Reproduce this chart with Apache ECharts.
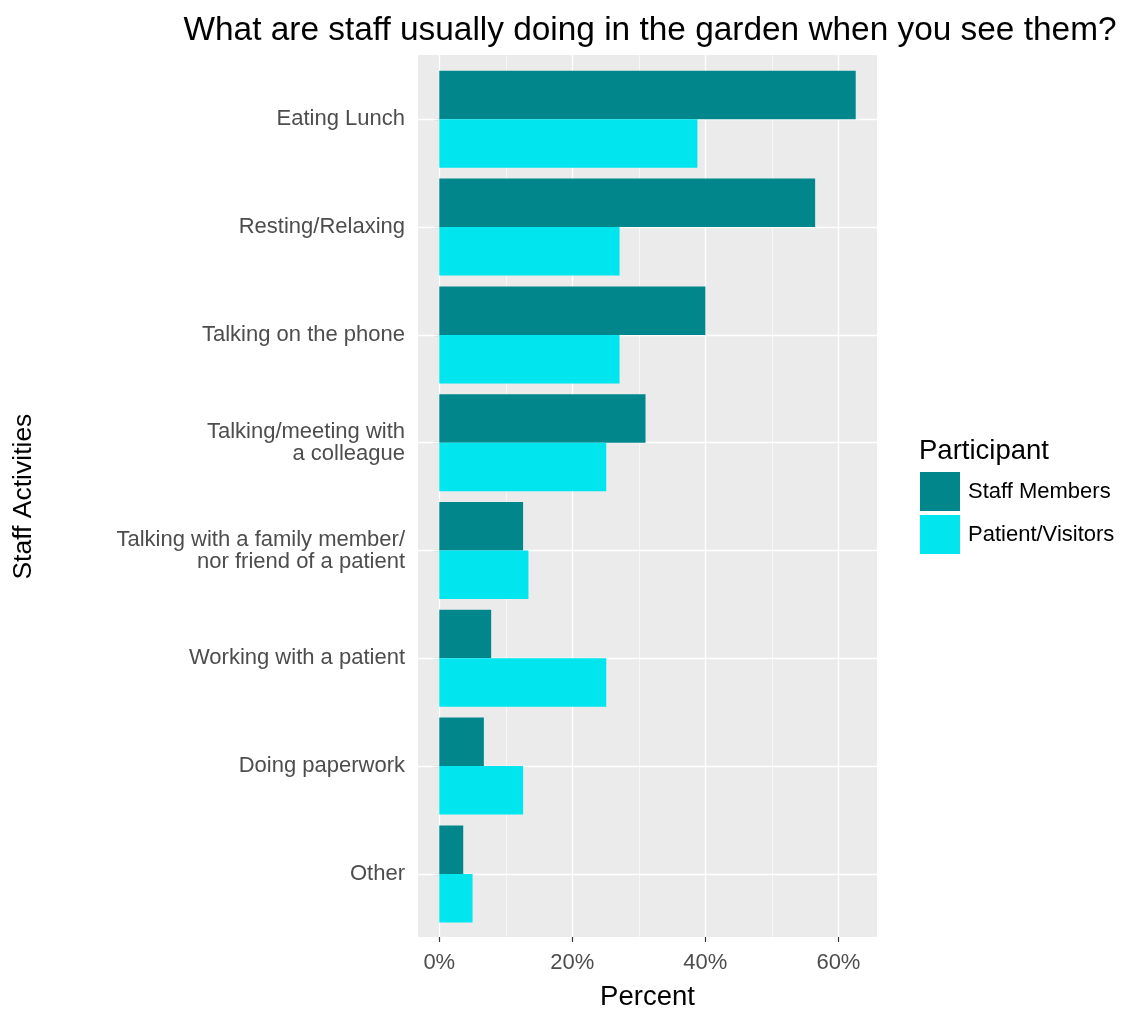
<!DOCTYPE html>
<html>
<head>
<meta charset="utf-8">
<script src="https://cdn.jsdelivr.net/npm/echarts@6/dist/echarts.min.js"></script>
<style>
  html, body { margin: 0; padding: 0; background: #fff; }
  #chart { width: 1125px; height: 1010px; }
</style>
</head>
<body>
<div id="chart"></div>
<script>
// data (percent of respondents)
const categories = [
  'Eating Lunch',
  'Resting/Relaxing',
  'Talking on the phone',
  'Talking/meeting with\na colleague',
  'Talking with a family member/\nnor friend of a patient',
  'Working with a patient',
  'Doing paperwork',
  'Other'
];
const staffMembers = [62.6, 56.5, 40.0, 31.0, 12.6, 7.8, 6.7, 3.6];
const patientVisitors = [38.8, 27.1, 27.1, 25.1, 13.4, 25.1, 12.6, 5.0];
const seriesNames = ['Staff Members', 'Patient/Visitors'];
const xTicks = [0, 20, 40, 60];
const xMinor = [10, 30, 50];

const FONT = '"Liberation Sans", Arial, sans-serif';
const xMin = -3.2, xMax = 65.8;

const chart = echarts.init(document.getElementById('chart'), null, { renderer: 'canvas' });

const vLines = xTicks.map(v => ({ xAxis: v, lineStyle: { width: 1.3 } }))
  .concat(xMinor.map(v => ({ xAxis: v, lineStyle: { width: 0.6 } })));
const hLines = categories.map(c => ({ yAxis: c }));

chart.setOption({
  animation: false,
  textStyle: { fontFamily: FONT },
  title: [
    {
      text: 'What are staff usually doing in the garden when you see them?',
      left: 645, top: 9, textAlign: 'center',
      textStyle: { fontFamily: FONT, fontSize: 33.4, fontWeight: 'normal', color: '#000' }
    },
    {
      text: 'Participant',
      left: 919, top: 437, padding: 0,
      textStyle: { fontFamily: FONT, fontSize: 27.5, fontWeight: 'normal', color: '#000' }
    }
  ],
  legend: {
    data: seriesNames,
    orient: 'vertical',
    left: 920, top: 472,
    padding: 0,
    itemWidth: 40, itemHeight: 39, itemGap: 4,
    icon: 'rect',
    textStyle: { fontFamily: FONT, fontSize: 22, color: '#000', padding: [0, 0, 0, 3] }
  },
  grid: [
    // panel background
    { left: 418, top: 55, width: 459, height: 882, show: true, backgroundColor: '#EBEBEB', borderWidth: 0, outerBoundsMode: 'none' },
    // bars (ggplot keeps 0.6 of a band as padding at each end)
    { left: 418, top: 65.4, width: 459, height: 862.4, outerBoundsMode: 'none' }
  ],
  xAxis: [
    {
      gridIndex: 0, type: 'value', min: xMin, max: xMax,
      axisLine: { show: false },
      axisTick: { show: true, customValues: xTicks, length: 5, lineStyle: { color: '#333', width: 1.2 } },
      axisLabel: { customValues: xTicks, formatter: v => v + '%', color: '#4D4D4D', fontSize: 22, margin: 15, fontFamily: FONT },
      splitLine: { show: false },
      name: 'Percent', nameLocation: 'middle', nameGap: 46,
      nameTextStyle: { fontFamily: FONT, fontSize: 27.5, color: '#000' }
    },
    { gridIndex: 1, type: 'value', min: xMin, max: xMax, show: false }
  ],
  yAxis: [
    { gridIndex: 0, type: 'value', min: 0, max: 1, show: false },
    {
      gridIndex: 1, type: 'category', data: categories, inverse: true,
      axisLine: { show: false },
      axisTick: { show: true, alignWithLabel: true, interval: 0, length: 5, lineStyle: { color: '#333', width: 1.2 } },
      axisLabel: {
        interval: 0, color: '#4D4D4D', fontSize: 22, lineHeight: 22, margin: 13,
        align: 'right', fontFamily: FONT
      },
      splitLine: { show: false },
      name: 'Staff Activities', nameLocation: 'middle', nameRotate: 90, nameGap: 381,
      nameTextStyle: { fontFamily: FONT, fontSize: 26.5, color: '#000' }
    }
  ],
  series: [
    {
      type: 'scatter', xAxisIndex: 0, yAxisIndex: 0, data: [], silent: true, z: 1,
      markLine: {
        silent: true, symbol: 'none', label: { show: false },
        lineStyle: { color: '#fff', type: 'solid' },
        data: vLines
      }
    },
    {
      type: 'scatter', xAxisIndex: 1, yAxisIndex: 1, data: [], silent: true, z: 1,
      markLine: {
        silent: true, symbol: 'none', label: { show: false },
        lineStyle: { color: '#fff', type: 'solid', width: 1.3 },
        data: hLines
      }
    },
    {
      name: seriesNames[0], type: 'bar', xAxisIndex: 1, yAxisIndex: 1, z: 5,
      data: staffMembers, barWidth: 48.5, barGap: '0%',
      itemStyle: { color: '#00868B' }
    },
    {
      name: seriesNames[1], type: 'bar', xAxisIndex: 1, yAxisIndex: 1, z: 5,
      data: patientVisitors, barWidth: 48.5, barGap: '0%',
      itemStyle: { color: '#00E5EE' }
    }
  ]
});

window.addEventListener('resize', () => chart.resize());
</script>
</body>
</html>
